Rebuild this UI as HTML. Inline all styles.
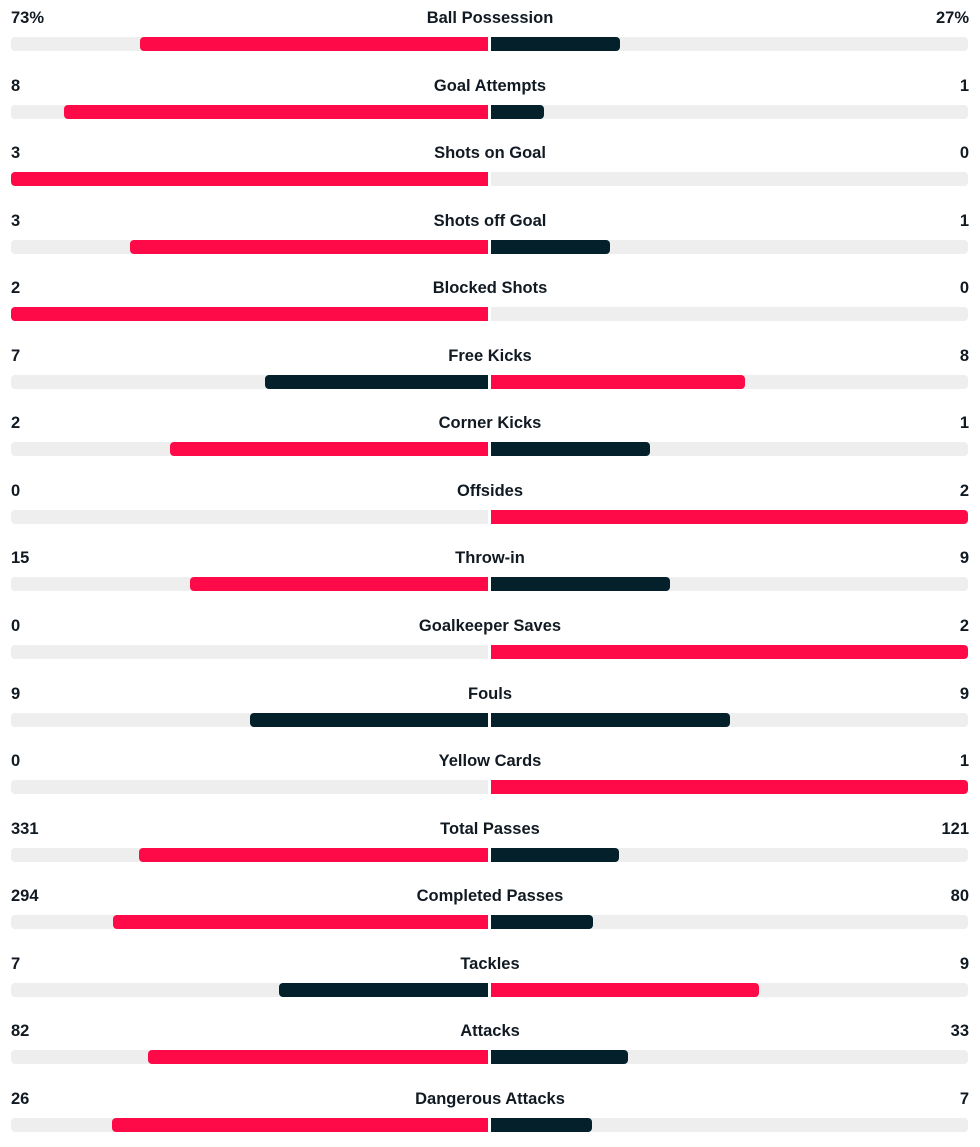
<!DOCTYPE html>
<html><head><meta charset="utf-8"><style>
body{margin:0;width:980px;height:1147px;background:#fff;font-family:"Liberation Sans",sans-serif;color:#111a22;position:relative;overflow:hidden}
.t{position:absolute;font-size:16.5px;font-weight:bold;line-height:20px;white-space:nowrap}
.b{position:absolute;height:14px}
</style></head><body>
<script>
const labels=["Ball Possession","Goal Attempts","Shots on Goal","Shots off Goal","Blocked Shots","Free Kicks","Corner Kicks","Offsides","Throw-in","Goalkeeper Saves","Fouls","Yellow Cards","Total Passes","Completed Passes","Tackles","Attacks","Dangerous Attacks"];
const homeVals=[73,8,3,3,2,7,2,0,15,0,9,0,331,294,7,82,26];
const awayVals=[27,1,0,1,0,8,1,2,9,2,9,1,121,80,9,33,7];
const suffix=["%","","","","","","","","","","","","","","","",""];
const RED="#ff0a48",DARK="#03202b",TRACK="#eeeeee";
const L=11,C1=488,C2=491,R=968,HW=477,PITCH=67.56;
function add(cls,css,txt,name){const e=document.createElement('div');e.className=cls;e.style.cssText=css;if(txt!==undefined)e.textContent=txt;


document.body.appendChild(e);return e;}
labels.forEach((lab,i)=>{
 const y=i*PITCH, h=homeVals[i], a=awayVals[i], tot=h+a||1;
 const slug=lab.toLowerCase().replace(/[^a-z]+/g,'-');
 add('t',`left:11px;top:${8+y}px`,h+suffix[i],slug+'-home-value');
 add('t',`right:11px;top:${8+y}px`,a+suffix[i],slug+'-away-value');
 add('t',`left:0;width:980px;text-align:center;top:${8+y}px`,lab,slug+'-label');
 add('b',`left:${L}px;width:${C1-L}px;top:${37+y}px;background:${TRACK};border-radius:4px 0 0 4px`,undefined,slug+'-home-track');
 add('b',`left:${C2}px;width:${R-C2}px;top:${37+y}px;background:${TRACK};border-radius:0 4px 4px 0`,undefined,slug+'-away-track');
 const hw=HW*h/tot, aw=HW*a/tot;
 const hc=h>a?RED:DARK, ac=a>h?RED:DARK;
 if(hw>0)add('b',`left:${C1-hw}px;width:${hw}px;top:${37+y}px;background:${hc};border-radius:4px 0 0 4px`,undefined,slug+'-home-bar');
 if(aw>0)add('b',`left:${C2}px;width:${aw}px;top:${37+y}px;background:${ac};border-radius:0 4px 4px 0`,undefined,slug+'-away-bar');
});
</script>
</body></html>
